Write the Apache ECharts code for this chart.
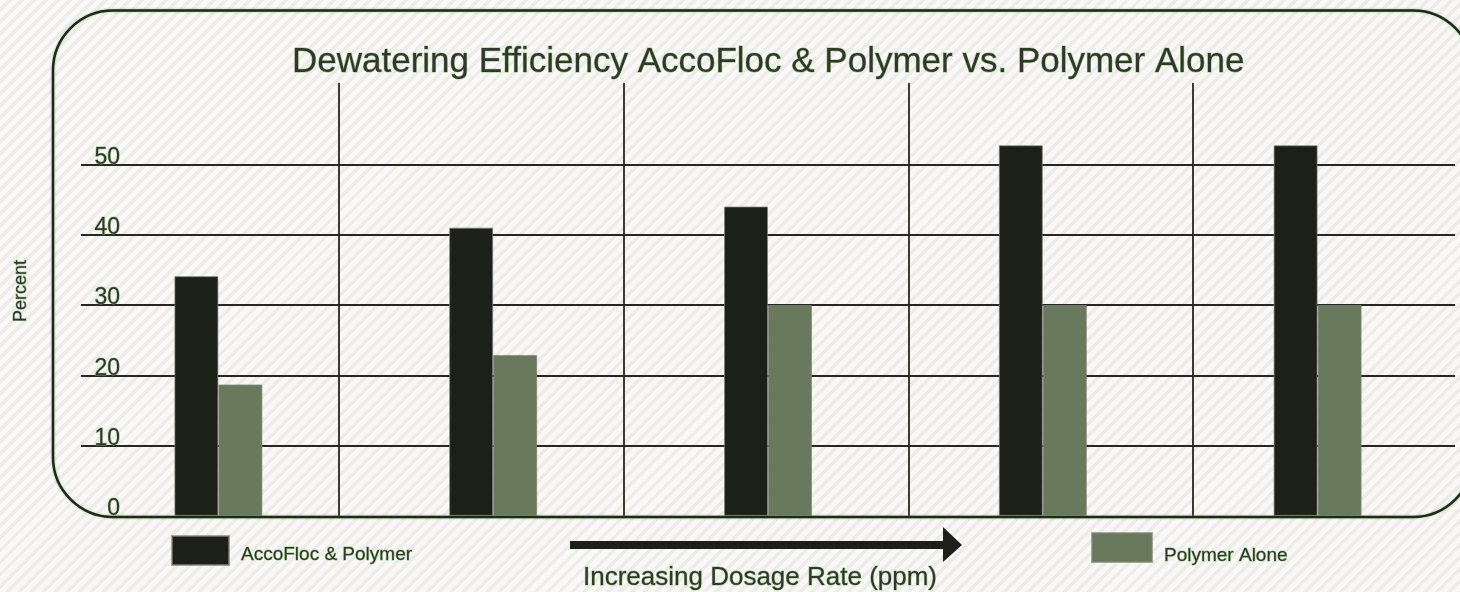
<!DOCTYPE html>
<html>
<head>
<meta charset="utf-8">
<script src="https://cdn.jsdelivr.net/npm/echarts@6/dist/echarts.min.js"></script>
<style>
html, body { margin: 0; padding: 0; }
#chart {
    width: 1460px;
    height: 592px;
    background: repeating-linear-gradient(135deg, #f9f8f5 0px, #f9f8f5 5px, #ececea 5px, #ececea 8.5px);
}
</style>
</head>
<body>
<div id="chart"></div>
<script>
// dosage steps (increasing left to right, no labels in the original)
var categories = ["Dose 1", "Dose 2", "Dose 3", "Dose 4", "Dose 5"];
var accoFlocPolymer = [34.1, 41, 44, 52.7, 52.7];
var polymerAlone = [18.7, 22.9, 30, 30, 30];
// y ticks
var yMin = 0;
var yMax = 60;
var yStep = 10;

var textDark = "#30382c";
var textGlow = "rgba(140,190,120,0.85)";
var lineColor = "#262622";

function legendText(padTop) {
    return {
        t: {
            fontFamily: "Liberation Sans",
            fontSize: 19,
            color: textDark,
            textBorderColor: textGlow,
            textBorderWidth: 1,
            padding: [padTop, 0, 0, 7]
        }
    };
}

var chart = echarts.init(document.getElementById("chart"));

var option = {
    backgroundColor: "transparent",
    animation: false,
    title: {
        text: "Dewatering Efficiency AccoFloc & Polymer vs. Polymer Alone",
        left: 292,
        top: 45,
        padding: 0,
        textStyle: {
            fontFamily: "Liberation Sans",
            fontSize: 35,
            fontWeight: "normal",
            color: textDark,
            textBorderColor: textGlow,
            textBorderWidth: 1
        }
    },
    legend: [{
        data: ["AccoFloc & Polymer"],
        left: 171,
        top: 535,
        padding: 0,
        icon: "rect",
        itemWidth: 57,
        itemHeight: 29,
        formatter: "{t|{name}}",
        textStyle: { rich: legendText(9) }
    }, {
        data: ["Polymer Alone"],
        left: 1091,
        top: 532,
        padding: 0,
        icon: "rect",
        itemWidth: 60,
        itemHeight: 29,
        formatter: "{t|{name}}",
        textStyle: { rich: legendText(17) }
    }],
    grid: [{
        // bars + horizontal lines
        left: 81,
        right: 5,
        top: 94,
        bottom: 76,
        outerBoundsMode: "none"
    }, {
        // vertical separators
        left: 54,
        width: 1424,
        top: 83,
        bottom: 76,
        outerBoundsMode: "none"
    }],
    xAxis: [{
        type: "category",
        gridIndex: 0,
        data: categories,
        axisLine: { show: false },
        axisTick: { show: false },
        axisLabel: { show: false },
        splitLine: { show: false },
        name: "Increasing Dosage Rate (ppm)",
        nameLocation: "middle",
        nameGap: 49,
        nameTextStyle: {
            fontFamily: "Liberation Sans",
            fontSize: 26,
            color: textDark,
            textBorderColor: textGlow,
            textBorderWidth: 1,
            padding: [0, 16, 0, 0]
        }
    }, {
        type: "category",
        gridIndex: 1,
        data: categories,
        axisLine: { show: false },
        axisTick: { show: false },
        axisLabel: { show: false },
        splitLine: {
            show: true,
            interval: 0,
            showMinLine: false,
            showMaxLine: false,
            lineStyle: { color: lineColor, width: 1.8 }
        }
    }],
    yAxis: [{
        type: "value",
        gridIndex: 0,
        min: yMin,
        max: yMax,
        interval: yStep,
        axisLine: { show: false },
        axisTick: { show: false },
        axisLabel: {
            inside: true,
            margin: 39,
            align: "right",
            verticalAlign: "bottom",
            lineHeight: 14,
            showMaxLabel: false,
            fontFamily: "Liberation Sans",
            fontSize: 23,
            color: textDark,
            textBorderColor: textGlow,
            textBorderWidth: 1
        },
        splitLine: {
            show: true,
            showMinLine: false,
            showMaxLine: false,
            lineStyle: { color: lineColor, width: 1.8 }
        }
    }, {
        type: "value",
        gridIndex: 1,
        show: false
    }],
    series: [{
        name: "AccoFloc & Polymer",
        type: "bar",
        xAxisIndex: 0,
        yAxisIndex: 0,
        data: accoFlocPolymer,
        barWidth: 44,
        barGap: "0%",
        itemStyle: {
            color: "#1c2018",
            borderColor: "rgba(130,130,120,0.7)",
            borderWidth: 1
        }
    }, {
        name: "Polymer Alone",
        type: "bar",
        xAxisIndex: 0,
        yAxisIndex: 0,
        data: polymerAlone,
        barWidth: 44,
        barGap: "0%",
        itemStyle: {
            color: "#687a5b",
            borderColor: "rgba(130,130,120,0.7)",
            borderWidth: 1
        }
    }],
    graphic: [{
        // rounded frame
        type: "rect",
        z: 100,
        shape: { x: 53, y: 10.5, width: 1420, height: 506.5, r: 60 },
        style: {
            fill: null,
            stroke: "#1f2a1b",
            lineWidth: 2.5,
            shadowColor: "rgba(120,175,100,0.9)",
            shadowBlur: 2
        }
    }, {
        // arrow shaft
        type: "rect",
        shape: { x: 570, y: 541, width: 376, height: 8 },
        style: { fill: "#1c2018" }
    }, {
        // arrow head
        type: "polygon",
        shape: { points: [[943, 527], [962, 545], [943, 562]] },
        style: { fill: "#1c2018" }
    }, {
        type: "text",
        x: 21,
        y: 291,
        rotation: Math.PI / 2,
        style: {
            text: "Percent",
            fontFamily: "Liberation Sans",
            fontSize: 18,
            fill: textDark,
            stroke: textGlow,
            lineWidth: 1,
            textAlign: "center",
            textVerticalAlign: "middle"
        }
    }]
};

chart.setOption(option);
window.addEventListener("resize", function () {
    chart.resize();
});
</script>
</body>
</html>
